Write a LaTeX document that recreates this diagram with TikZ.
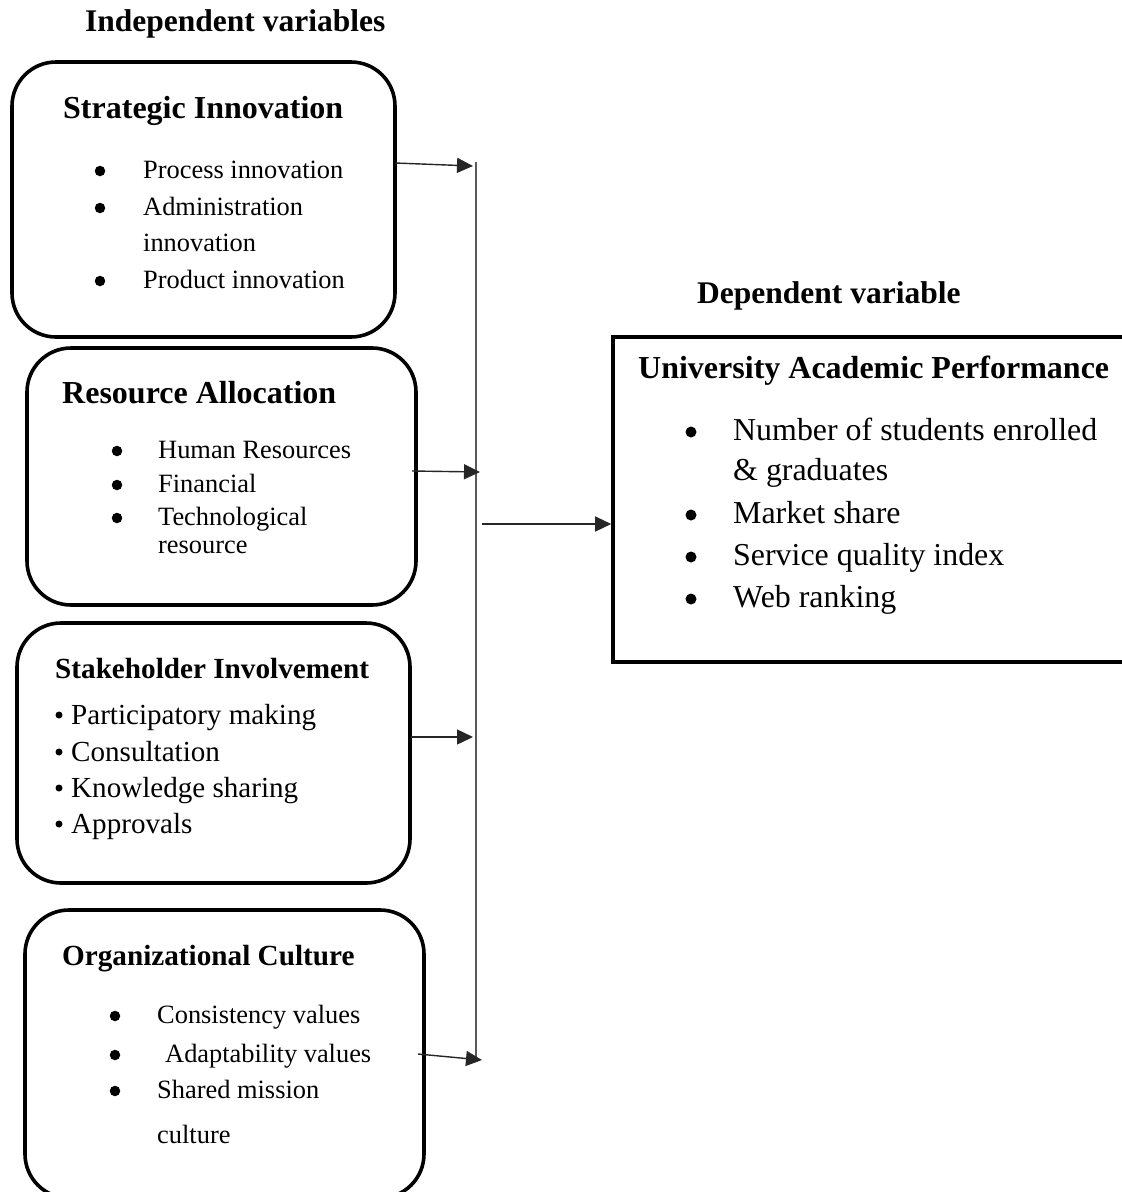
\documentclass[tikz,border=0pt]{standalone}
\usepackage{fontspec}
\setmainfont{Liberation Serif}
\usetikzlibrary{arrows.meta}
\begin{document}
\begin{tikzpicture}[x=1pt,y=-1pt,
  rbox/.style={draw=black,line width=3.6pt,rounded corners=44pt,inner sep=0pt},
  sbox/.style={draw=black,line width=3.6pt,inner sep=0pt},
  hdr/.style={anchor=base west,inner sep=0pt,font=\fontsize{31.5}{36}\selectfont\bfseries},
  ttl/.style={anchor=base west,inner sep=0pt,font=\fontsize{32}{36}\selectfont\bfseries},
  ttls/.style={anchor=base west,inner sep=0pt,font=\fontsize{29.2}{34}\selectfont\bfseries},
  itm/.style={anchor=base west,inner sep=0pt,font=\fontsize{26.4}{30}\selectfont},
  itmb/.style={anchor=base west,inner sep=0pt,font=\fontsize{29.1}{33}\selectfont},
  itmr/.style={anchor=base west,inner sep=0pt,font=\fontsize{31.9}{36}\selectfont},
  bul/.style={circle,fill=black,inner sep=0pt,minimum size=10.5pt,yshift=7pt},
  bulr/.style={circle,fill=black,inner sep=0pt,minimum size=11pt,yshift=8pt},
  buls/.style={circle,fill=black,inner sep=0pt,minimum size=7pt,yshift=9pt},
  arr/.style={line width=1.4pt,draw=black!85,-{Triangle[length=16pt,width=15pt]}},
  vline/.style={line width=2pt,draw=black!65}]
\useasboundingbox (0,0) rectangle (1122,1192);
\clip (0,0) rectangle (1122,1192);
\fill[white] (0,0) rectangle (1122,1192);

% headers
\node[hdr] (hind) at (85,31) {Independent variables};
\node[hdr] (hdep) at (697,303) {Dependent variable};

% boxes
\node[rbox,minimum width=383pt,minimum height=275pt] (b1) at (203.5,199.5) {};
\node[rbox,minimum width=389pt,minimum height=257pt] (b2) at (221.5,476.5) {};
\node[rbox,minimum width=393pt,minimum height=260pt] (b3) at (213.5,753) {};
\node[rbox,minimum width=399pt,minimum height=288pt] (b4) at (224.5,1054) {};
\node[sbox,minimum width=540pt,minimum height=325pt] (br) at (883,499.5) {};

% box 1
\node[ttl] (t1) at (63,118) {Strategic Innovation};
\node[bul] (b1a) at (100,178) {};
\node[itm] (i1a) at (143,178) {Process innovation};
\node[bul] (b1b) at (100,215) {};
\node[itm] (i1b) at (143,215) {Administration};
\node[itm] (i1c) at (143,251) {innovation};
\node[bul] (b1d) at (100,288) {};
\node[itm] (i1d) at (143,288) {Product innovation};

% box 2
\node[ttl] (t2) at (62,403) {Resource Allocation};
\node[bul] (b2a) at (117,458) {};
\node[itm] (i2a) at (158,458) {Human Resources};
\node[bul] (b2b) at (117,492) {};
\node[itm] (i2b) at (158,492) {Financial};
\node[bul] (b2c) at (117,525) {};
\node[itm] (i2c) at (158,525) {Technological};
\node[itm] (i2d) at (158,553) {resource};

% box 3
\node[ttls] (t3) at (55,678) {Stakeholder Involvement};
\node[buls] (b3a) at (59,724) {};
\node[itmb] (i3a) at (71,724) {Participatory making};
\node[buls] (b3b) at (59,761) {};
\node[itmb] (i3b) at (71,761) {Consultation};
\node[buls] (b3c) at (59,797) {};
\node[itmb] (i3c) at (71,797) {Knowledge sharing};
\node[buls] (b3d) at (59,833) {};
\node[itmb] (i3d) at (71,833) {Approvals};

% box 4
\node[ttls] (t4) at (62,965) {Organizational Culture};
\node[bul] (b4a) at (115,1023) {};
\node[itm] (i4a) at (157,1023) {Consistency values};
\node[bul] (b4b) at (115,1062) {};
\node[itm] (i4b) at (165,1062) {Adaptability values};
\node[bul] (b4c) at (115,1098) {};
\node[itm] (i4c) at (157,1098) {Shared mission};
\node[itm] (i4d) at (157,1143) {culture};

% right box
\node[ttl] (tr) at (638,378) {University Academic Performance};
\node[bulr] (bra) at (691,440) {};
\node[itmr] (ira) at (733,440) {Number of students enrolled};
\node[itmr] (irb) at (733,480) {\& graduates};
\node[bulr] (brc) at (691,523) {};
\node[itmr] (irc) at (733,523) {Market share};
\node[bulr] (brd) at (691,565) {};
\node[itmr] (ird) at (733,565) {Service quality index};
\node[bulr] (bre) at (691,607) {};
\node[itmr] (ire) at (733,607) {Web ranking};

% connectors
\coordinate (vtop) at (476,162);
\coordinate (vbot) at (476,1060);
\draw[vline] (vtop) -- (vbot);

\coordinate (s1) at (395,163);
\coordinate (e1) at (473,166);
\coordinate (s2) at (412,471);
\coordinate (e2) at (480,472);
\coordinate (s3) at (411,737);
\coordinate (e3) at (473,737);
\coordinate (s4) at (418,1054);
\coordinate (e4) at (482,1060);
\coordinate (s5) at (482,524);
\draw[arr] (s1) -- (e1);
\draw[arr] (s2) -- (e2);
\draw[arr] (s3) -- (e3);
\draw[arr] (s4) -- (e4);
\draw[arr] (s5) -- (br.west |- s5);
\end{tikzpicture}
\end{document}
